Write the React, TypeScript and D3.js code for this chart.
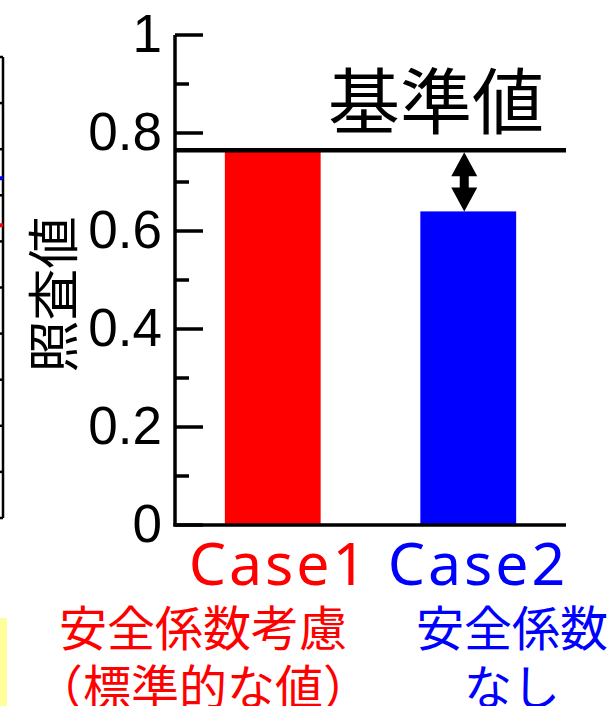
import React from "react";
import * as d3 from "d3";

// Cases and their check values
const caseKeys = ["Case1", "Case2"];
const caseValues = [0.765, 0.64];
const caseColors = ["#ff0000", "#0000ff"];
const caseNoteLine1 = ["安全係数考慮", "安全係数"];
const caseNoteLine2 = ["（標準的な値）", "なし"];

// Reference (standard) value
const referenceValue = 0.765;
const referenceLabel = "基準値";
const yTitle = "照査値";

// Axis ticks
const majorTicks = [0, 0.2, 0.4, 0.6, 0.8, 1];
const majorTickLabels = ["0", "0.2", "0.4", "0.6", "0.8", "1"];
const minorTicks = [0.1, 0.3, 0.5, 0.7, 0.9];

// Neighbouring panel edge on the left
const sideTickCount = 11;
const sideMarkers = [
  { pos: 2.63, color: "#0000ff" },
  { pos: 3.65, color: "#ff0000" },
];

const W = 612;
const H = 706;
const JP = "'Noto Sans CJK JP', 'Noto Sans', sans-serif";
const LATIN = "'Noto Sans', 'Noto Sans CJK JP', sans-serif";
const NUM = "'Liberation Sans', Arial, sans-serif";

export default function App() {
  const left = 175;
  const right = 566;
  const y = d3.scaleLinear().domain([0, 1]).range([525, 35]);
  const x = d3
    .scaleBand<string>()
    .domain(caseKeys)
    .range([left, right])
    .paddingInner(0.51)
    .paddingOuter(0.255);

  const sideY = d3.scaleLinear().domain([0, sideTickCount - 1]).range([57, 518]);

  const refY = y(referenceValue);
  const case2Top = y(caseValues[1]);
  const arrowX = (x("Case2") ?? 0) + x.bandwidth() / 2 - 4;
  const headLen = 24;
  const headHalf = 13;
  const shaftHalf = 4.5;
  const aTop = refY + 2;
  const aBot = case2Top;
  const arrowPath = [
    [arrowX, aTop],
    [arrowX + headHalf, aTop + headLen],
    [arrowX + shaftHalf, aTop + headLen],
    [arrowX + shaftHalf, aBot - headLen],
    [arrowX + headHalf, aBot - headLen],
    [arrowX, aBot],
    [arrowX - headHalf, aBot - headLen],
    [arrowX - shaftHalf, aBot - headLen],
    [arrowX - shaftHalf, aTop + headLen],
    [arrowX - headHalf, aTop + headLen],
  ];

  const noteCenters = [203, 512];
  const caseCenters = [279, 478];

  return (
    <svg
      width={W}
      height={H}
      viewBox={`0 0 ${W} ${H}`}
      style={{ position: "absolute", left: 0, top: 0, background: "#fff" }}
    >
      {/* left neighbouring panel edge */}
      <line x1={3} x2={3} y1={sideY(0)} y2={sideY(sideTickCount - 1)} stroke="#000" strokeWidth={2.5} />
      {d3.range(sideTickCount).map((i) => (
        <line key={`st${i}`} x1={0} x2={3} y1={sideY(i)} y2={sideY(i)} stroke="#000" strokeWidth={2.5} />
      ))}
      {sideMarkers.map((m, i) => (
        <rect key={`sm${i}`} x={0} y={sideY(m.pos) - 2} width={3} height={4} fill={m.color} />
      ))}
      <rect x={0} y={618} width={7} height={H - 618} fill="#ffff99" />

      {/* bars */}
      {caseKeys.map((k, i) => (
        <rect
          key={k}
          x={x(k)}
          y={y(caseValues[i])}
          width={x.bandwidth()}
          height={y(0) - y(caseValues[i])}
          fill={caseColors[i]}
        />
      ))}

      {/* axes */}
      <line x1={left} x2={left} y1={y(1)} y2={y(0) + 1.5} stroke="#000" strokeWidth={3.5} />
      <line x1={left - 1.5} x2={right} y1={y(0)} y2={y(0)} stroke="#000" strokeWidth={3.5} />
      {majorTicks.map((t) => (
        <line key={`mt${t}`} x1={left} x2={203} y1={y(t)} y2={y(t)} stroke="#000" strokeWidth={3.5} />
      ))}
      {minorTicks.map((t) => (
        <line key={`nt${t}`} x1={left} x2={189} y1={y(t)} y2={y(t)} stroke="#000" strokeWidth={3.5} />
      ))}
      {majorTicks.map((t, i) => (
        <text
          key={`tl${t}`}
          x={162}
          y={y(t) + 17}
          textAnchor="end"
          fontFamily={NUM}
          fontSize={53}
          fill="#000"
        >
          {majorTickLabels[i]}
        </text>
      ))}

      {/* reference line */}
      <line x1={left} x2={right} y1={refY} y2={refY} stroke="#000" strokeWidth={4.5} />
      <text x={436} y={128} textAnchor="middle" fontFamily={JP} fontSize={72} fill="#000">
        {referenceLabel}
      </text>

      {/* gap arrow */}
      <path d={d3.line()(arrowPath as [number, number][]) + "Z"} fill="#000" />

      {/* y title */}
      <text
        transform={`translate(73, 294.5) rotate(-90)`}
        textAnchor="middle"
        fontFamily={JP}
        fontSize={52}
        fill="#000"
      >
        {yTitle}
      </text>

      {/* category labels */}
      {caseKeys.map((k, i) => (
        <g key={`cl${k}`} fill={caseColors[i]} textAnchor="middle">
          <text x={caseCenters[i]} y={585} fontSize={59} fontFamily={LATIN} letterSpacing={3}>
            {k}
          </text>
          <text x={noteCenters[i]} y={646} fontSize={48} fontFamily={JP}>
            {caseNoteLine1[i]}
          </text>
          <text x={noteCenters[i]} y={705} fontSize={48} fontFamily={JP}>
            {caseNoteLine2[i]}
          </text>
        </g>
      ))}
    </svg>
  );
}
